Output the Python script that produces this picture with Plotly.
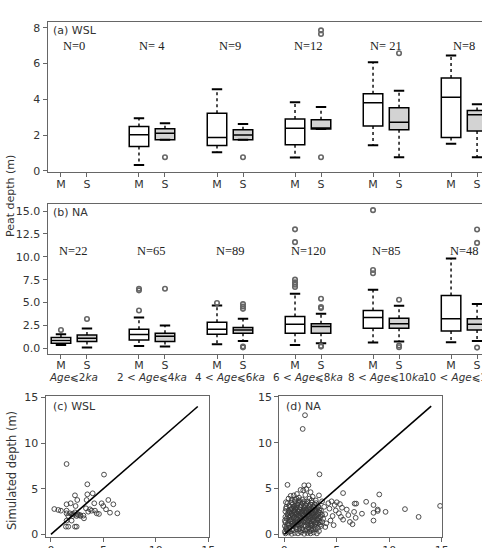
import plotly.graph_objects as go

# ---------------- data ----------------
age_labels = ["<i>Age</i>⩽2<i>ka</i>", "2 < <i>Age</i>⩽4<i>ka</i>", "4 < <i>Age</i>⩽6<i>ka</i>",
              "6 < <i>Age</i>⩽8<i>ka</i>", "8 < <i>Age</i>⩽10<i>ka</i>", "10 < <i>Age</i>⩽12<i>ka</i>"]
wsl_n = ["N=0", "N= 4", "N=9", "N=12", "N= 21", "N=8"]
na_n = ["N=22", "N=65", "N=89", "N=120", "N=85", "N=48"]

# (a) WSL  measured (M) and simulated (S) box statistics per age class
wsl_M_lo = [None, 0.33, 1.04, 0.74, 1.43, 1.51]
wsl_M_q1 = [None, 1.36, 1.41, 1.45, 2.51, 1.86]
wsl_M_med = [None, 2.01, 1.86, 2.38, 3.81, 4.11]
wsl_M_q3 = [None, 2.47, 3.22, 2.90, 4.30, 5.18]
wsl_M_hi = [None, 2.94, 4.56, 3.83, 6.07, 6.44]
wsl_S_lo = [None, 1.73, 1.73, 2.33, 0.76, 0.76]
wsl_S_q1 = [None, 1.73, 1.73, 2.33, 2.29, 2.23]
wsl_S_med = [None, 2.10, 2.00, 2.38, 2.72, 3.13]
wsl_S_q3 = [None, 2.35, 2.29, 2.85, 3.53, 3.37]
wsl_S_hi = [None, 2.66, 2.62, 3.56, 4.47, 3.72]
wsl_M_out = [[], [], [], [], [], []]
wsl_S_out = [[], [0.76], [0.76], [0.76, 7.65, 7.85], [6.57], []]

# (b) NA
na_M_lo = [0.36, 0.25, 0.44, 0.36, 0.62, 0.66]
na_M_q1 = [0.55, 0.91, 1.53, 1.65, 2.19, 1.90]
na_M_med = [0.84, 1.50, 2.08, 2.63, 3.36, 3.22]
na_M_q3 = [1.17, 2.08, 2.85, 3.47, 4.13, 5.78]
na_M_hi = [1.53, 3.36, 4.68, 5.96, 6.40, 9.80]
na_S_lo = [0.07, 0.18, 0.80, 0.55, 0.73, 0.80]
na_S_q1 = [0.73, 0.73, 1.65, 1.64, 2.19, 2.00]
na_S_med = [1.10, 1.30, 2.00, 2.37, 2.67, 2.63]
na_S_q3 = [1.46, 1.65, 2.26, 2.67, 3.29, 3.22]
na_S_hi = [2.15, 2.48, 3.22, 3.77, 4.64, 4.83]
na_M_out = [[2.0], [6.5, 6.33, 4.13], [4.94], [13.0, 11.6, 7.5, 7.2, 6.95, 6.7], [15.1, 8.55, 8.2], []]
na_S_out = [[3.2], [6.51], [4.83, 4.57, 4.31, 0.18, 0.1], [5.41, 4.5, 4.39, 0.25, 0.18],
            [5.3, 0.29, 0.11], [12.98, 11.52, 0.07]]

# (c) WSL measured vs simulated
wsl_meas = [1.49, 5.06, 3.47, 2.29, 3.47, 3.98, 2.51, 3.40, 1.88, 1.49, 2.35, 4.13, 4.83, 4.99, 5.47,
            5.95, 0.32, 0.70, 0.95, 1.49, 3.34, 3.72, 3.88, 4.20, 5.25, 5.63, 6.33, 4.36, 4.58, 1.49,
            1.81, 2.13, 2.54, 2.77, 1.65, 2.07, 2.45, 2.83, 2.29, 3.15, 1.49, 1.97, 1.43, 1.65, 2.29,
            2.45, 3.56, 2.60, 2.00, 3.10]
wsl_sim = [7.70, 6.54, 5.48, 4.27, 4.38, 4.49, 3.76, 3.76, 3.40, 3.29, 3.10, 3.40, 3.40, 3.10, 3.76,
           3.29, 2.77, 2.67, 2.59, 2.59, 2.85, 2.74, 2.59, 2.59, 2.74, 2.37, 2.30, 2.30, 2.23, 2.30,
           2.30, 2.23, 2.23, 2.12, 2.01, 2.01, 2.01, 2.01, 2.41, 1.75, 1.50, 1.50, 0.84, 0.84, 0.84,
           0.84, 2.48, 2.10, 2.20, 2.05]

# (d) NA measured vs simulated
na_meas = [1.97, 1.75, 3.35, 0.30, 1.90, 2.30, 1.55, 1.80, 2.10, 5.60, 9.05, 3.30, 0.60, 0.90, 1.20,
           2.50, 1.40, 2.00, 2.70, 0.40, 1.00,
           7.80, 6.70, 6.85, 8.50, 14.85, 11.50, 8.90, 8.90, 9.65, 8.50, 12.80, 8.50, 7.40, 6.65,
           6.80, 6.25, 6.50, 5.60, 5.95, 6.10, 5.00, 5.30, 4.80, 4.50, 4.20, 5.50, 4.90, 5.20, 4.60,
           4.40, 5.40, 4.00, 4.70, 3.90, 4.30, 3.80, 3.60, 3.90,
           0.10, 0.40, 0.70, 1.00, 1.30, 1.60, 1.90, 2.20, 2.50, 2.80, 3.10, 0.30, 0.90, 1.50, 2.00,
           2.60, 3.30, 2.40,
           0.20, 0.50, 0.80, 1.10, 1.40, 1.70, 2.00, 2.30, 2.60, 2.90, 3.20, 3.50, 0.40, 1.20, 1.90,
           2.70, 3.40,
           0.10, 0.35, 0.60, 0.85, 1.05, 1.30, 1.55, 1.80, 2.05, 2.30, 2.55, 2.80, 3.05, 3.30, 3.60,
           1.00, 1.65, 2.45,
           0.20, 0.45, 0.70, 0.95, 1.15, 1.40, 1.60, 1.85, 2.10, 2.30, 2.50, 2.75, 2.95, 3.20, 3.45,
           3.70, 1.25, 2.00, 2.65, 0.80,
           0.30, 0.55, 0.80, 1.00, 1.20, 1.40, 1.60, 1.80, 2.00, 2.20, 2.40, 2.60, 2.80, 3.00, 3.20,
           3.40, 3.60, 1.50, 2.10, 2.70, 1.10,
           0.40, 0.70, 0.95, 1.20, 1.45, 1.70, 1.90, 2.15, 2.40, 2.65, 2.90, 3.10, 3.35, 1.30, 2.00,
           2.80,
           0.50, 0.80, 1.10, 1.35, 1.60, 1.85, 2.10, 2.35, 2.60, 2.90, 3.20, 1.50, 2.20, 0.30, 1.00,
           1.70, 2.40, 3.00,
           0.15, 0.05, 0.10, 0.20, 0.05,
           0.25, 0.55, 0.75, 1.15, 1.45, 1.75, 2.15, 2.45, 2.75, 3.00,
           0.35, 0.65, 0.90, 1.35, 1.60, 2.20, 2.50, 2.95, 3.20,
           0.50, 0.75, 1.20, 1.45, 1.95, 2.20, 2.65, 2.90, 3.15, 3.40,
           0.35, 0.60, 0.90, 1.30, 1.55, 1.75, 1.95, 2.20, 2.40, 2.55, 2.85, 3.10, 3.30,
           0.45, 0.70, 0.90, 1.15, 1.35, 1.70, 1.90, 2.30, 2.50, 2.75, 2.95, 3.25, 3.50,
           0.60, 0.85, 1.05, 1.55, 1.80, 2.30, 2.55, 3.00, 3.25,
           0.65, 0.95, 1.25, 1.75, 2.00, 2.50, 2.75, 3.05, 1.40, 1.90, 2.60, 1.15, 0.70,
           0.05, 0.10, 0.15, 0.15]
na_sim = [13.00, 11.50, 6.55, 5.40, 5.35, 5.35, 4.85, 4.80, 4.95, 4.50, 4.35, 4.25, 4.20, 4.25, 4.40,
          4.60, 4.00, 4.30, 4.10, 3.90, 3.80,
          3.55, 3.35, 3.35, 3.20, 3.10, 2.75, 2.70, 2.55, 2.45, 2.35, 1.90, 1.50, 2.25, 2.45,
          1.80, 1.35, 1.10, 1.60, 2.70, 2.10, 3.50, 3.30, 3.20, 3.60, 3.40, 2.90, 2.60, 2.30, 2.00,
          1.50, 1.90, 1.20, 1.00, 0.80, 2.80, 3.00, 3.60, 2.20,
          0.10, 0.20, 0.05, 0.15, 0.10, 0.20, 0.05, 0.15, 0.10, 0.20, 0.10, 0.40, 0.45, 0.35, 0.40,
          0.45, 0.35, 0.30,
          0.80, 0.70, 0.90, 0.75, 0.95, 0.65, 0.85, 0.70, 0.95, 0.80, 0.70, 0.90, 1.00, 1.05, 1.00,
          1.10, 1.05,
          1.30, 1.20, 1.40, 1.25, 1.45, 1.30, 1.20, 1.40, 1.30, 1.50, 1.25, 1.45, 1.30, 1.50, 1.35,
          1.15, 1.55, 1.15,
          1.70, 1.85, 1.65, 1.90, 1.75, 1.95, 1.70, 1.85, 1.65, 1.95, 1.80, 1.70, 1.95, 1.75, 1.90,
          1.70, 1.60, 2.00, 1.90, 2.00,
          2.20, 2.35, 2.15, 2.40, 2.25, 2.10, 2.45, 2.20, 2.35, 2.15, 2.40, 2.25, 2.10, 2.40, 2.20,
          2.35, 2.10, 2.30, 2.50, 2.45, 2.10,
          2.60, 2.80, 2.65, 2.90, 2.70, 2.55, 2.85, 2.65, 2.95, 2.70, 2.60, 2.85, 2.65, 2.55, 2.70,
          2.90,
          3.10, 3.30, 3.15, 3.40, 3.20, 3.05, 3.35, 3.15, 3.45, 3.20, 3.10, 3.50, 3.60, 3.40, 3.60,
          3.80, 3.90, 3.70,
          0.60, 1.50, 2.50, 3.00, 0.30,
          0.55, 0.30, 0.50, 0.55, 0.60, 0.45, 0.55, 0.60, 0.50, 0.55,
          1.05, 1.15, 1.00, 1.10, 1.00, 1.05, 0.95, 1.10, 1.20,
          1.55, 1.35, 1.35, 1.50, 1.55, 1.40, 1.55, 1.25, 1.60, 1.30,
          1.95, 2.05, 1.80, 2.05, 1.85, 2.10, 1.75, 2.05, 1.70, 2.05, 1.85, 2.05, 1.85,
          2.45, 2.30, 2.50, 2.35, 2.45, 2.35, 2.50, 2.30, 2.55, 2.30, 2.55, 2.45, 2.60,
          2.70, 2.95, 2.80, 2.95, 2.70, 2.75, 2.85, 2.75, 2.95,
          3.45, 3.05, 3.25, 3.40, 3.20, 3.25, 3.05, 3.40, 3.70, 3.60, 3.70, 3.90, 3.75,
          0.90, 1.90, 2.80, 3.50]

one_to_one = [0, 14]

# ---------------- figure ----------------
W, H = 482, 548
M_pos = [1, 4, 7, 10, 13, 16]
S_pos = [2, 5, 8, 11, 14, 17]
ctr_pos = [1.5, 4.5, 7.5, 10.5, 13.5, 16.5]

AX_COL = "#666666"
TXT_COL = "#333333"
FONT = "DejaVu Sans"

fig = go.Figure()


def add_boxes(pos, lo, q1, med, q3, hi, outs, fill, xa, ya):
    keep = [i for i in range(len(q1)) if q1[i] is not None]
    fig.add_trace(go.Box(
        x=[pos[i] for i in keep], q1=[q1[i] for i in keep], median=[med[i] for i in keep],
        q3=[q3[i] for i in keep], lowerfence=[q1[i] for i in keep], upperfence=[q3[i] for i in keep],
        width=0.75, fillcolor=fill, line=dict(color="black", width=1.5), whiskerwidth=0,
        boxpoints=False, xaxis=xa, yaxis=ya, showlegend=False, hoverinfo="skip"))
    wx, wy, cx, cy = [], [], [], []
    for i in keep:
        p = pos[i]
        wx += [p, p, None, p, p, None]
        wy += [q3[i], hi[i], None, q1[i], lo[i], None]
        cx += [p - 0.2, p + 0.2, None, p - 0.2, p + 0.2, None]
        cy += [hi[i], hi[i], None, lo[i], lo[i], None]
    fig.add_trace(go.Scatter(x=wx, y=wy, mode="lines", line=dict(color="black", width=1.4, dash="dot"),
                             xaxis=xa, yaxis=ya, showlegend=False, hoverinfo="skip"))
    fig.add_trace(go.Scatter(x=cx, y=cy, mode="lines", line=dict(color="black", width=2),
                             xaxis=xa, yaxis=ya, showlegend=False, hoverinfo="skip"))
    ox, oy = [], []
    for i, vals in enumerate(outs):
        for v in vals:
            ox.append(pos[i])
            oy.append(v)
    fig.add_trace(go.Scatter(x=ox, y=oy, mode="markers",
                             marker=dict(symbol="circle-open", size=4.5, color="#666666", line=dict(width=1.6)),
                             xaxis=xa, yaxis=ya, showlegend=False, hoverinfo="skip", cliponaxis=False))


add_boxes(M_pos, wsl_M_lo, wsl_M_q1, wsl_M_med, wsl_M_q3, wsl_M_hi, wsl_M_out, "white", "x", "y")
add_boxes(S_pos, wsl_S_lo, wsl_S_q1, wsl_S_med, wsl_S_q3, wsl_S_hi, wsl_S_out, "#d3d3d3", "x", "y")
add_boxes(M_pos, na_M_lo, na_M_q1, na_M_med, na_M_q3, na_M_hi, na_M_out, "white", "x2", "y2")
add_boxes(S_pos, na_S_lo, na_S_q1, na_S_med, na_S_q3, na_S_hi, na_S_out, "#d3d3d3", "x2", "y2")

pt_marker = dict(symbol="circle-open", size=4.8, color="#3a3a3a", line=dict(width=0.9))
fig.add_trace(go.Scatter(x=wsl_meas, y=wsl_sim, mode="markers", marker=pt_marker,
                         xaxis="x3", yaxis="y3", showlegend=False))
fig.add_trace(go.Scatter(x=one_to_one, y=one_to_one, mode="lines", line=dict(color="black", width=1.6),
                         xaxis="x3", yaxis="y3", showlegend=False))
fig.add_trace(go.Scatter(x=na_meas, y=na_sim, mode="markers", marker=pt_marker,
                         xaxis="x4", yaxis="y4", showlegend=False))
fig.add_trace(go.Scatter(x=one_to_one, y=one_to_one, mode="lines", line=dict(color="black", width=1.6),
                         xaxis="x4", yaxis="y4", showlegend=False))


def px_x(x0, x1):
    return [x0 / W, x1 / W]


def px_y(top, bottom):
    return [(H - bottom) / H, (H - top) / H]


base_ax = dict(showline=True, linecolor=AX_COL, linewidth=1.3, ticks="outside", ticklen=4,
               tickcolor=AX_COL, tickwidth=1.2, showgrid=False, zeroline=False,
               tickfont=dict(family=FONT, size=11, color=TXT_COL), automargin=False)

ms_vals = sorted(M_pos + S_pos)
ms_text = ["M" if v in M_pos else "S" for v in ms_vals]

fig.update_layout(
    template="none",
    width=W, height=H, margin=dict(l=0, r=0, t=0, b=0),
    paper_bgcolor="white", plot_bgcolor="white", boxmode="overlay",
    font=dict(family=FONT, color=TXT_COL),
    xaxis=dict(base_ax, domain=[47.7 / W, 1.0], range=[0.49, 17.19], tickvals=ms_vals, ticktext=ms_text,
               mirror=True, anchor="y", ticklabelstandoff=-2),
    yaxis=dict(base_ax, domain=px_y(22.3, 171.7), range=[-0.05, 8.3], tickvals=[0, 2, 4, 6, 8],
               anchor="x"),
    xaxis2=dict(base_ax, domain=[47.7 / W, 1.0], range=[0.49, 17.19], tickvals=ms_vals, ticktext=ms_text,
                mirror=True, anchor="y2", ticklabelstandoff=-4),
    yaxis2=dict(base_ax, domain=px_y(204, 354.3), range=[-0.66, 15.77],
                tickvals=[0, 2.5, 5, 7.5, 10, 12.5, 15], tickformat=".1f", anchor="x2"),
    xaxis3=dict(base_ax, domain=px_x(45.7, 209.3), range=[-0.5, 15.1], tickvals=[0, 5, 10, 15],
                mirror=True, anchor="y3", ticklabelstandoff=-1),
    yaxis3=dict(base_ax, domain=px_y(395.7, 536.7), range=[-0.26, 15.18], tickvals=[0, 5, 10, 15],
                mirror=True, anchor="x3"),
    xaxis4=dict(base_ax, domain=px_x(279.3, 442), range=[-0.48, 15.03], tickvals=[0, 5, 10, 15],
                mirror=True, anchor="y4", ticklabelstandoff=-1),
    yaxis4=dict(base_ax, domain=px_y(395.5, 536.7), range=[-0.26, 15.15], tickvals=[0, 5, 10, 15],
                mirror=True, anchor="x4"),
)

ann = []
for i in range(6):
    ann.append(dict(x=ctr_pos[i], y=7.0, xref="x", yref="y", text=wsl_n[i], showarrow=False,
                    font=dict(family="Liberation Serif", size=12.5, color="#222222")))
    ann.append(dict(x=ctr_pos[i], y=10.6, xref="x2", yref="y2", text=na_n[i], showarrow=False,
                    font=dict(family="Liberation Serif", size=12.5, color="#222222")))
    ann.append(dict(x=ctr_pos[i], y=(H - 377) / H, xref="x2", yref="paper", text=age_labels[i],
                    showarrow=False, xanchor="center", yanchor="middle",
                    font=dict(family=FONT, size=10.4, color=TXT_COL)))

panel_labels = [("(a) WSL", 50.5, 31), ("(b) NA", 50.5, 212.7), ("(c) WSL", 50.5, 406.7), ("(d) NA", 284, 406.7)]
for txt, xp, yp in panel_labels:
    ann.append(dict(x=xp / W, y=(H - yp) / H, xref="paper", yref="paper", text=txt, showarrow=False,
                    xanchor="left", yanchor="middle", font=dict(family=FONT, size=11, color=TXT_COL)))

ann.append(dict(x=10 / W, y=(H - 196) / H, xref="paper", yref="paper", text="Peat depth (m)",
                showarrow=False, textangle=-90, xanchor="center", yanchor="middle",
                font=dict(family=FONT, size=11, color=TXT_COL)))
ann.append(dict(x=12 / W, y=(H - 471) / H, xref="paper", yref="paper", text="Simulated depth (m)",
                showarrow=False, textangle=-90, xanchor="center", yanchor="middle",
                font=dict(family=FONT, size=11.5, color=TXT_COL)))
fig.update_layout(annotations=ann)

fig.write_html("out.html")
